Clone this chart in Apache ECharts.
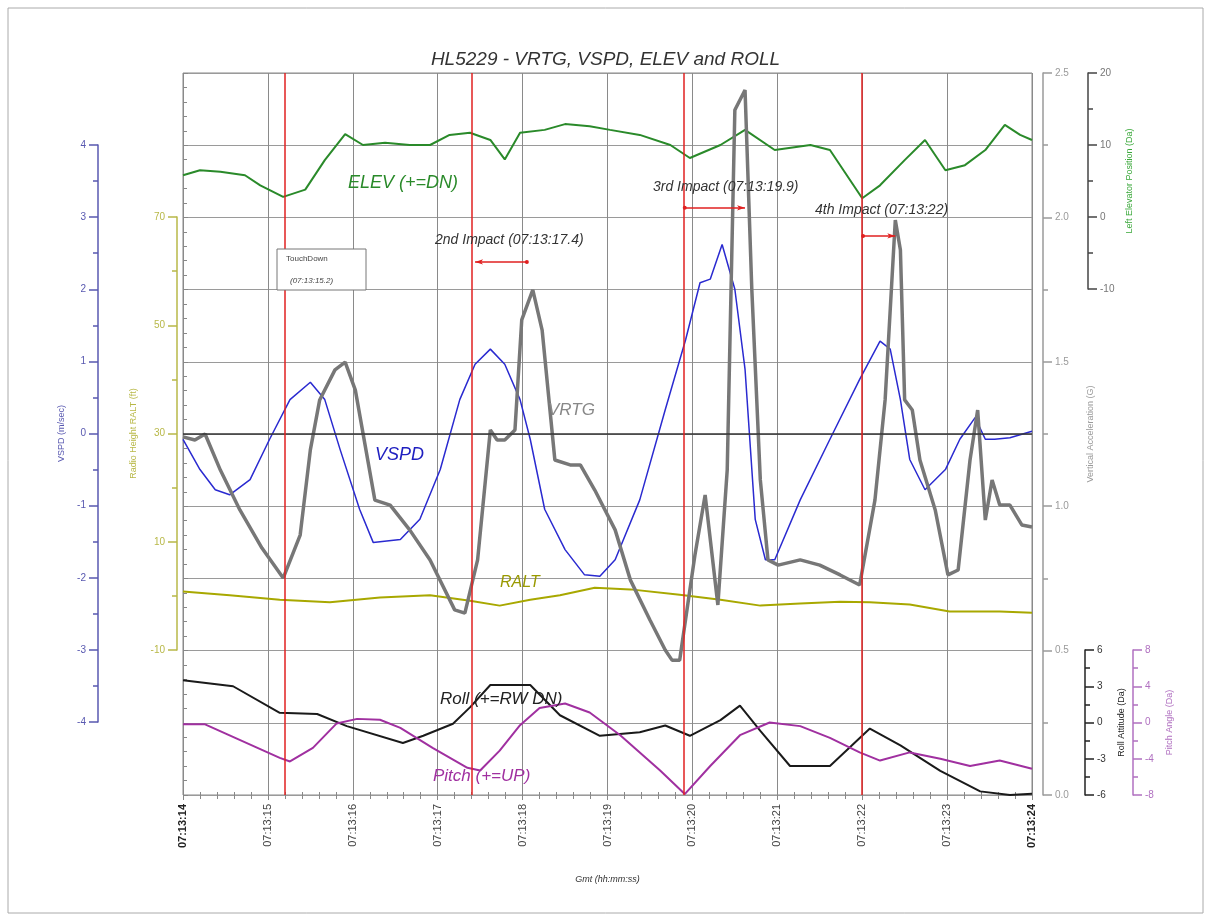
<!DOCTYPE html>
<html><head><meta charset="utf-8">
<script src="https://cdn.jsdelivr.net/npm/echarts/dist/echarts.min.js"></script>
<style>html,body{margin:0;padding:0;background:#fff}#c{width:1211px;height:922px}</style>
</head><body><div id="c"></div>
<script>
// ---- data (time in seconds after 07:13:00) ----
const timeTicks = [14,15,16,17,18,19,20,21,22,23,24];
const vrtgT = [14.00,14.14,14.26,14.44,14.67,14.93,15.18,15.38,15.50,15.61,15.79,15.91,16.03,16.26,16.44,16.67,16.91,17.20,17.32,17.47,17.62,17.70,17.79,17.91,17.99,18.12,18.23,18.38,18.56,18.68,18.85,19.09,19.27,19.50,19.68,19.76,19.85,20.03,20.15,20.30,20.41,20.50,20.62,20.70,20.80,20.89,21.01,21.27,21.50,21.74,21.97,22.15,22.27,22.39,22.45,22.50,22.59,22.68,22.86,23.01,23.13,23.27,23.36,23.45,23.53,23.62,23.74,23.88,24.00];
const vrtgV = [1.240,1.229,1.250,1.125,0.987,0.855,0.751,0.900,1.195,1.368,1.472,1.499,1.402,1.021,1.004,0.918,0.814,0.641,0.630,0.814,1.264,1.229,1.229,1.264,1.645,1.749,1.610,1.160,1.143,1.143,1.056,0.918,0.744,0.606,0.502,0.467,0.467,0.831,1.039,0.658,1.125,2.372,2.441,1.749,1.091,0.814,0.796,0.814,0.796,0.762,0.727,1.021,1.368,1.991,1.887,1.368,1.333,1.160,0.987,0.762,0.779,1.160,1.333,0.952,1.091,1.004,1.004,0.935,0.928];
const vspdT = [14.00,14.20,14.38,14.55,14.79,15.02,15.26,15.50,15.67,15.85,16.08,16.24,16.56,16.79,17.03,17.26,17.44,17.62,17.79,17.97,18.09,18.26,18.50,18.73,18.91,19.09,19.38,19.68,19.92,20.09,20.21,20.35,20.50,20.62,20.74,20.86,20.97,21.27,21.62,21.97,22.21,22.33,22.45,22.56,22.74,22.98,23.15,23.33,23.45,23.56,23.74,24.00];
const vspdV = [-0.08,-0.50,-0.78,-0.85,-0.64,-0.08,0.47,0.71,0.47,-0.22,-1.05,-1.51,-1.47,-1.19,-0.50,0.47,0.96,1.17,0.96,0.47,-0.08,-1.05,-1.61,-1.96,-1.98,-1.75,-0.92,0.33,1.30,2.09,2.14,2.62,2.00,0.89,-1.19,-1.75,-1.75,-0.92,-0.08,0.75,1.28,1.17,0.47,-0.36,-0.78,-0.50,-0.08,0.22,-0.08,-0.08,-0.06,0.03];
const elevT = [14.00,14.20,14.44,14.73,14.91,15.18,15.44,15.67,15.91,16.12,16.38,16.67,16.91,17.14,17.38,17.62,17.79,17.97,18.26,18.50,18.79,19.03,19.38,19.74,19.97,20.33,20.62,20.97,21.39,21.62,22.00,22.21,22.50,22.74,22.98,23.21,23.45,23.68,23.86,24.00];
const elevV = [5.8,6.5,6.3,5.8,4.4,2.8,3.8,7.9,11.5,10.0,10.3,10.0,10.0,11.4,11.7,10.7,8.0,11.7,12.1,12.9,12.6,12.1,11.4,10.0,8.2,10.0,12.1,9.3,10.0,9.3,2.6,4.4,7.9,10.7,6.5,7.2,9.3,12.8,11.4,10.7];
const raltT = [14.00,14.55,15.14,15.73,16.32,16.91,17.38,17.73,18.09,18.44,18.85,19.27,19.85,20.33,20.80,21.27,21.74,22.09,22.56,23.03,23.62,24.00];
const raltV = [0.8,0.1,-0.7,-1.2,-0.3,0.1,-0.9,-1.8,-0.7,0.1,1.5,1.2,0.2,-0.7,-1.8,-1.4,-1.1,-1.2,-1.6,-2.9,-2.9,-3.1];
const rollT = [14.00,14.59,15.14,15.58,15.93,16.59,16.83,17.18,17.38,17.62,18.09,18.44,18.91,19.38,19.68,19.97,20.33,20.56,20.80,21.15,21.62,22.09,22.45,22.92,23.39,23.74,24.00];
const rollV = [3.5,3.0,0.8,0.7,-0.3,-1.7,-1.1,-0.1,1.25,3.1,3.1,0.6,-1.1,-0.8,-0.25,-1.1,0.2,1.4,-0.7,-3.6,-3.6,-0.5,-1.9,-4.0,-5.7,-6.0,-5.9];
const pitchT = [14.00,14.26,15.14,15.26,15.53,15.81,16.05,16.32,16.56,16.94,17.35,17.50,17.73,17.97,18.20,18.50,18.79,19.15,19.62,19.91,20.21,20.56,20.91,21.27,21.62,21.97,22.21,22.56,22.92,23.27,23.62,24.00];
const pitchV = [-0.2,-0.2,-3.9,-4.3,-2.8,-0.1,0.4,0.3,-0.6,-2.8,-5.0,-5.3,-3.1,-0.3,1.6,2.1,1.1,-1.4,-5.3,-7.9,-4.8,-1.4,0.0,-0.4,-1.7,-3.3,-4.2,-3.3,-4.0,-4.8,-4.2,-5.1];
const impactTimes = [15.2, 17.4, 19.9, 22.0];
// arrows: [fromTime, toTime, vrtgLevel]
const impactArrows = [[18.05, 17.44, 1.846], [19.91, 20.62, 2.033], [22.01, 22.39, 1.936]];
const impactLabels = ['2nd Impact (07:13:17.4)', '3rd Impact (07:13:19.9)', '4th Impact (07:13:22)'];

const pair = (t, v) => t.map((x, i) => [x, v[i]]);
const FF = 'Liberation Sans, Arial, sans-serif';

const chart = echarts.init(document.getElementById('c'));
const G = {left:183, right:179};
const hiddenX = (gi) => ({type:'value', gridIndex:gi, min:14, max:24, show:false});
const sideAxis = (o) => Object.assign({
  type:'value', axisLine:{show:true, lineStyle:{color:o.color, width:1.5}},
  axisTick:{show:true, length:9, lineStyle:{color:o.color, width:1.5}},
  minorTick:{show:true, splitNumber:2, length:5, lineStyle:{color:o.color, width:1.5}},
  splitLine:{show:false},
  axisLabel:{color:o.labelColor||o.color, fontSize:10, fontFamily:FF, margin:12},
  nameLocation:'middle', nameRotate:90,
  nameTextStyle:{color:o.nameColor||o.color, fontSize:9, fontFamily:FF}
}, o.extra);

const option = {
  animation:false,
  backgroundColor:'#fff',
  title:{text:'HL5229 - VRTG, VSPD, ELEV and ROLL', left:'center', top:45,
    textStyle:{fontStyle:'italic', fontWeight:'normal', fontSize:19, color:'#333', fontFamily:FF}},
  grid:[
    {left:G.left, right:G.right, top:73, bottom:127, show:true, borderColor:'#888', borderWidth:1},
    {left:G.left, right:G.right, top:145, bottom:200},
    {left:G.left, right:G.right, top:217, bottom:272},
    {left:G.left, right:G.right, top:73, bottom:633},
    {left:G.left, right:G.right, top:650, bottom:127}
  ],
  xAxis:[
    {type:'value', gridIndex:0, position:'bottom', min:14, max:24, interval:1,
      axisLine:{show:false}, axisTick:{show:true, inside:true, length:5, lineStyle:{color:'#888'}},
      minorTick:{show:true, splitNumber:5, length:3, lineStyle:{color:'#888'}},
      splitLine:{show:true, lineStyle:{color:'#8a8a8a', width:1}},
      axisLabel:{rotate:90, fontSize:11, color:'#444', fontFamily:FF, margin:9,
        formatter:v => (v===14||v===24) ? '{b|07:13:'+v+'}' : '07:13:'+v,
        rich:{b:{fontWeight:'bold', fontSize:11, color:'#222', fontFamily:FF}}},
      name:'Gmt (hh:mm:ss)', nameLocation:'middle', nameGap:80,
      nameTextStyle:{fontSize:9, fontStyle:'italic', color:'#333', fontFamily:FF}},
    {type:'value', gridIndex:0, position:'top', min:14, max:24, interval:1,
      axisLine:{show:false}, axisLabel:{show:false}, splitLine:{show:false},
      axisTick:{show:true, inside:true, length:5, lineStyle:{color:'#888'}},
      minorTick:{show:true, splitNumber:5, length:4, lineStyle:{color:'#888'}}},
    hiddenX(1), hiddenX(2), hiddenX(3), hiddenX(4)
  ],
  yAxis:[
    sideAxis({color:'#9a9a9a', extra:{gridIndex:0, position:'right', offset:11, min:0, max:2.5, interval:0.5,
      axisLabel:{color:'#9a9a9a', fontSize:10, fontFamily:FF, margin:12, formatter:v=>v.toFixed(1)},
      splitLine:{show:true, lineStyle:{color:'#9a9a9a', width:1}},
      minorSplitLine:{show:true, lineStyle:{color:'#9a9a9a', width:1}},
      name:'Vertical Acceleration (G)', nameGap:43}}),
    {type:'value', gridIndex:0, position:'left', min:0, max:2.5, interval:0.25,
      axisLine:{show:false}, axisLabel:{show:false}, splitLine:{show:false},
      axisTick:{show:true, inside:true, length:5, lineStyle:{color:'#888'}},
      minorTick:{show:true, splitNumber:5, length:4, lineStyle:{color:'#888'}}},
    sideAxis({color:'#5858b0', extra:{gridIndex:1, position:'left', offset:85, min:-4, max:4, interval:1,
      name:'VSPD (m/sec)', nameGap:30}}),
    sideAxis({color:'#b8b848', extra:{gridIndex:2, position:'left', offset:6, min:-10, max:70, interval:20,
      name:'Radio Height RALT (ft)', nameGap:39}}),
    sideAxis({color:'#444', labelColor:'#777', nameColor:'#3aa83a', extra:{gridIndex:3, position:'right', offset:56, min:-10, max:20, interval:10,
      name:'Left Elevator Position (Da)', nameGap:32}}),
    sideAxis({color:'#222', labelColor:'#333', extra:{gridIndex:4, position:'right', offset:53, min:-6, max:6, interval:3,
      name:'Roll Attitude (Da)', nameGap:27}}),
    sideAxis({color:'#b070c0', extra:{gridIndex:4, position:'right', offset:101, min:-8, max:8, interval:4,
      name:'Pitch Angle (Da)', nameGap:30}})
  ],
  series:[
    {name:'RALT', type:'line', xAxisIndex:3, yAxisIndex:3, data:pair(raltT, raltV), symbol:'none',
      lineStyle:{color:'#a8a800', width:2}},
    {name:'ELEV', type:'line', xAxisIndex:4, yAxisIndex:4, data:pair(elevT, elevV), symbol:'none',
      lineStyle:{color:'#2a8a2a', width:2}},
    {name:'Roll', type:'line', xAxisIndex:5, yAxisIndex:5, data:pair(rollT, rollV), symbol:'none',
      lineStyle:{color:'#1a1a1a', width:2}},
    {name:'Pitch', type:'line', xAxisIndex:5, yAxisIndex:6, data:pair(pitchT, pitchV), symbol:'none',
      lineStyle:{color:'#a030a0', width:2}},
    {name:'VSPD', type:'line', xAxisIndex:2, yAxisIndex:2, data:pair(vspdT, vspdV), symbol:'none',
      lineStyle:{color:'#2a2ad0', width:1.5},
      markLine:{silent:true, symbol:'none', label:{show:false}, lineStyle:{color:'#333', width:1.5, type:'solid'},
        data:[{yAxis:0}]}},
    {name:'VRTG', type:'line', xAxisIndex:0, yAxisIndex:0, data:pair(vrtgT, vrtgV), symbol:'none',
      lineStyle:{color:'#777', width:3.5},
      markLine:{silent:true, symbol:'none', label:{show:false}, lineStyle:{color:'#e02020', width:1.5, type:'solid'},
        data:impactTimes.map(t => ({xAxis:t}))}},
    {name:'arrows', type:'line', xAxisIndex:0, yAxisIndex:0, data:[], 
      markLine:{silent:true, symbol:['circle','arrow'], symbolSize:[4,8], label:{show:false},
        lineStyle:{color:'#e02020', width:1.5, type:'solid'},
        data:impactArrows.map(a => [{coord:[a[0], a[2]]}, {coord:[a[1], a[2]]}])}}
  ],
  graphic:[
    {type:'rect', shape:{x:8, y:8, width:1195, height:905}, style:{fill:'none', stroke:'#aaa', lineWidth:1}, z:-10},
    {type:'rect', shape:{x:277, y:249, width:89, height:41}, style:{fill:'#fff', stroke:'#777', lineWidth:1}, z:50},
    {type:'text', x:286, y:259, z:51, style:{text:'TouchDown', fontSize:8, fill:'#444', fontFamily:FF, verticalAlign:'middle'}},
    {type:'text', x:290, y:281, z:51, style:{text:'(07:13:15.2)', fontSize:8, fontStyle:'italic', fill:'#444', fontFamily:FF, verticalAlign:'middle'}},
    {type:'text', x:348, y:183, z:50, style:{text:'ELEV (+=DN)', fontSize:18, fontStyle:'italic', fill:'#2a8a2a', fontFamily:FF, verticalAlign:'middle'}},
    {type:'text', x:548, y:410, z:50, style:{text:'VRTG', fontSize:17, fontStyle:'italic', fill:'#888', fontFamily:FF, verticalAlign:'middle'}},
    {type:'text', x:375, y:455, z:50, style:{text:'VSPD', fontSize:18, fontStyle:'italic', fill:'#2020c0', fontFamily:FF, verticalAlign:'middle'}},
    {type:'text', x:500, y:583, z:50, style:{text:'RALT', fontSize:16, fontStyle:'italic', fill:'#999900', fontFamily:FF, verticalAlign:'middle'}},
    {type:'text', x:440, y:699, z:50, style:{text:'Roll (+=RW DN)', fontSize:17, fontStyle:'italic', fill:'#222', fontFamily:FF, verticalAlign:'middle'}},
    {type:'text', x:433, y:776, z:50, style:{text:'Pitch (+=UP)', fontSize:17, fontStyle:'italic', fill:'#a030a0', fontFamily:FF, verticalAlign:'middle'}},
    {type:'text', x:435, y:240, z:50, style:{text:impactLabels[0], fontSize:14, fontStyle:'italic', fill:'#333', fontFamily:FF, verticalAlign:'middle'}},
    {type:'text', x:653, y:187, z:50, style:{text:impactLabels[1], fontSize:14, fontStyle:'italic', fill:'#333', fontFamily:FF, verticalAlign:'middle'}},
    {type:'text', x:815, y:210, z:50, style:{text:impactLabels[2], fontSize:14, fontStyle:'italic', fill:'#333', fontFamily:FF, verticalAlign:'middle'}}
  ]
};
chart.setOption(option);
</script></body></html>
